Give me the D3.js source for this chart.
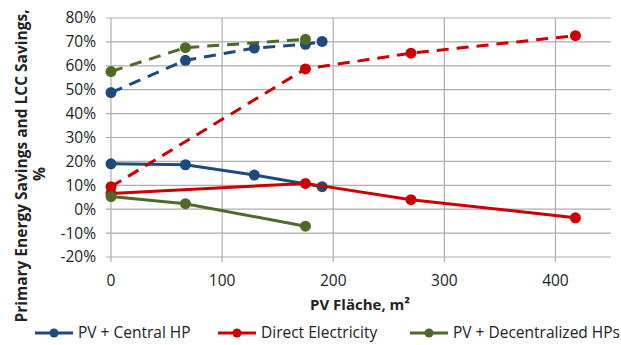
<!DOCTYPE html>
<html>
<head>
<meta charset="utf-8">
<script src="https://cdn.jsdelivr.net/npm/d3@7"></script>
<style>
  body { margin: 0; background: #fff; }
  text { font-family: "Open Sans", "Liberation Sans", sans-serif; fill: #222; }
</style>
</head>
<body>
<div id="chart"></div>
<script>
// PV area (m²) and savings (%)
const centralSolidX = [0, 67, 129, 190];
const centralSolid = [19, 18.6, 14.3, 9.4];
const centralDashX = [0, 67, 129, 175, 190];
const centralDash = [48.8, 62.3, 67.4, 69, 70.2];

const directSolidX = [0, 175, 270, 418];
const directSolid = [6.6, 10.8, 4, -3.6];
const directDashX = [0, 175, 270, 418];
const directDash = [9.4, 58.7, 65.3, 72.6];

const decentralSolidX = [0, 67, 175];
const decentralSolid = [5.3, 2.3, -7.1];
const decentralDashX = [0, 67, 175];
const decentralDash = [57.6, 67.6, 71.1];

const xTicks = [0, 100, 200, 300, 400];
const yTicks = [-20, -10, 0, 10, 20, 30, 40, 50, 60, 70, 80];

const seriesNames = ['PV + Central HP', 'Direct Electricity', 'PV + Decentralized HPs'];
const colors = ['#1f4a7c', '#cc0000', '#4f6a28'];

const width = 621, height = 345;
const margin = { top: 18, right: 10, bottom: 88, left: 111 };

const svg = d3.select('#chart').append('svg')
  .attr('width', width)
  .attr('height', height);

const x = d3.scaleLinear().domain([0, 450]).range([margin.left, width - margin.right]);
const y = d3.scaleLinear().domain([-20, 80]).range([height - margin.bottom, margin.top]);

// Grid
svg.append('g').selectAll('line')
  .data(yTicks).enter().append('line')
  .attr('x1', x(0) - 5).attr('x2', x(450))
  .attr('y1', d => y(d)).attr('y2', d => y(d))
  .attr('stroke', '#adadad').attr('stroke-width', 1.2);

svg.append('g').selectAll('line')
  .data(xTicks).enter().append('line')
  .attr('x1', d => x(d)).attr('x2', d => x(d))
  .attr('y1', y(80)).attr('y2', y(-20) + 5)
  .attr('stroke', '#adadad').attr('stroke-width', 1.2);

// Tick labels
svg.append('g').selectAll('text')
  .data(yTicks).enter().append('text')
  .attr('x', x(0) - 15)
  .attr('y', d => y(d))
  .attr('dy', '0.35em')
  .attr('text-anchor', 'end')
  .attr('font-size', '15.5px')
  .text(d => d + '%');

svg.append('g').selectAll('text')
  .data(xTicks).enter().append('text')
  .attr('x', d => x(d))
  .attr('y', 281)
  .attr('dy', '0.35em')
  .attr('text-anchor', 'middle')
  .attr('font-size', '15.5px')
  .text(d => d);

// Axis titles
svg.append('text')
  .attr('x', 360).attr('y', 305)
  .attr('dy', '0.35em')
  .attr('text-anchor', 'middle')
  .attr('font-size', '15px')
  .attr('font-weight', 'bold')
  .text('PV Fläche, m²');

const yTitle = svg.append('text')
  .attr('transform', 'translate(22,166) rotate(-90)')
  .attr('text-anchor', 'middle')
  .attr('font-size', '15.5px')
  .attr('font-weight', 'bold');
yTitle.append('tspan').attr('x', 0).attr('dy', '0.35em').text('Primary Energy Savings and LCC Savings,');
yTitle.append('tspan').attr('x', -8).attr('dy', '1.15em').text('%');

// Series
const line = d3.line().x(d => x(d[0])).y(d => y(d[1]));
const groups = [
  { sx: centralSolidX, sy: centralSolid, dx: centralDashX, dy: centralDash },
  { sx: directSolidX, sy: directSolid, dx: directDashX, dy: directDash },
  { sx: decentralSolidX, sy: decentralSolid, dx: decentralDashX, dy: decentralDash }
];

groups.forEach((g, i) => {
  const solid = d3.zip(g.sx, g.sy);
  const dashed = d3.zip(g.dx, g.dy);
  const layer = svg.append('g');

  layer.append('path').datum(dashed)
    .attr('d', line).attr('fill', 'none')
    .attr('stroke', colors[i]).attr('stroke-width', 3)
    .attr('stroke-dasharray', '12,8');

  layer.append('path').datum(solid)
    .attr('d', line).attr('fill', 'none')
    .attr('stroke', colors[i]).attr('stroke-width', 3);

  layer.selectAll('circle')
    .data(solid.concat(dashed)).enter().append('circle')
    .attr('cx', d => x(d[0])).attr('cy', d => y(d[1]))
    .attr('r', 5.5)
    .attr('fill', colors[i]);
});

// Legend
const legendX = [35, 218, 410];
const legend = svg.append('g');
seriesNames.forEach((name, i) => {
  const lg = legend.append('g').attr('transform', `translate(${legendX[i]},333)`);
  lg.append('line').attr('x1', 0).attr('x2', 38).attr('y1', 0).attr('y2', 0)
    .attr('stroke', colors[i]).attr('stroke-width', 3);
  lg.append('circle').attr('cx', 19).attr('cy', 0).attr('r', 4.5).attr('fill', colors[i]);
  lg.append('text').attr('x', 43).attr('y', 0).attr('dy', '0.35em')
    .attr('font-size', '15.5px').text(name);
});
</script>
</body>
</html>
